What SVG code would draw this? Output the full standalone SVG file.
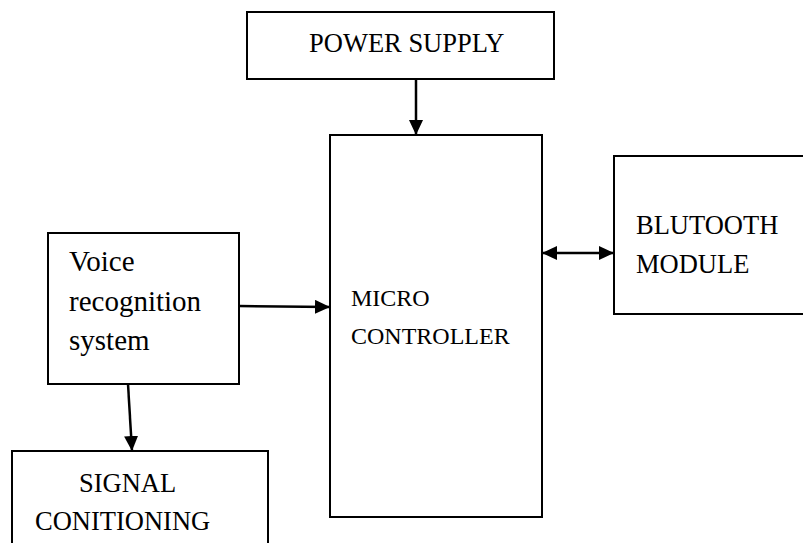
<svg xmlns="http://www.w3.org/2000/svg" width="803" height="543" viewBox="0 0 803 543">
<style>
.box{fill:#fff;stroke:#000;stroke-width:2}
.t{font-family:"Liberation Serif","Times New Roman",serif;font-size:26.5px;fill:#000}
.s{font-size:24px}
.v{font-size:29px}
.c{stroke:#000;stroke-width:2.5;fill:none}
</style>
<defs>
<marker id="ah" viewBox="0 0 15 14" refX="15" refY="7" markerWidth="15" markerHeight="14" markerUnits="userSpaceOnUse" orient="auto-start-reverse">
<path d="M0,0 L15,7 L0,14 Z" fill="#000"/>
</marker>
</defs>
<rect width="803" height="543" fill="#fff"/>
<g id="power">
<rect class="box" x="247" y="12" width="307" height="67"/>
<text class="t" x="309" y="52">POWER SUPPLY</text>
</g>
<g id="micro">
<rect class="box" x="330" y="135" width="212" height="382"/>
<text class="t s" x="351" y="306">MICRO</text>
<text class="t s" x="351" y="344">CONTROLLER</text>
</g>
<g id="bluetooth">
<rect class="box" x="614" y="156" width="200" height="158"/>
<text class="t" x="636" y="234">BLUTOOTH</text>
<text class="t" x="636" y="273">MODULE</text>
</g>
<g id="voice">
<rect class="box" x="48" y="233" width="191" height="151"/>
<text class="t v" x="69" y="271">Voice</text>
<text class="t v" x="69" y="311">recognition</text>
<text class="t v" x="69" y="350">system</text>
</g>
<g id="signal">
<rect class="box" x="12" y="451" width="256" height="110"/>
<text class="t" x="79" y="492">SIGNAL</text>
<text class="t" x="35" y="530">CONITIONING</text>
</g>
<g id="connectors">
<line class="c" x1="416" y1="79" x2="416" y2="135" marker-end="url(#ah)"/>
<line class="c" x1="239" y1="306" x2="330" y2="307" marker-end="url(#ah)"/>
<line class="c" x1="128" y1="384" x2="132" y2="451" marker-end="url(#ah)"/>
<line class="c" x1="542" y1="253" x2="614" y2="253" marker-start="url(#ah)" marker-end="url(#ah)"/>
</g>
</svg>
